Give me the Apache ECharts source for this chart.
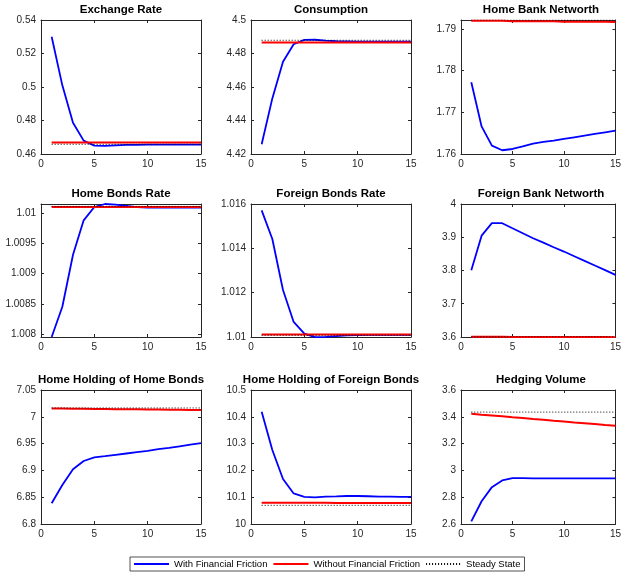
<!DOCTYPE html>
<html>
<head>
<meta charset="utf-8">
<title>Impulse responses</title>
<script src="https://cdn.jsdelivr.net/npm/echarts@6/dist/echarts.min.js"></script>
<style>
html, body { margin: 0; padding: 0; background: #fff; }
#chart { width: 624px; height: 574px; }
</style>
</head>
<body>
<div id="chart"></div>
<script>
var periods = [1, 2, 3, 4, 5, 6, 7, 8, 9, 10, 11, 12, 13, 14, 15];

var titles = ['Exchange Rate', 'Consumption', 'Home Bank Networth',
	'Home Bonds Rate', 'Foreign Bonds Rate', 'Foreign Bank Networth',
	'Home Holding of Home Bonds', 'Home Holding of Foreign Bonds', 'Hedging Volume'];

var seriesNames = ['With Financial Friction', 'Without Financial Friction', 'Steady State'];

// blue lines
var withFriction = [
	[0.530, 0.501, 0.4787, 0.468, 0.465, 0.4648, 0.4651, 0.4654, 0.4655, 0.4656, 0.4656, 0.4656, 0.4656, 0.4656, 0.4656],
	[4.4258, 4.4532, 4.4751, 4.4855, 4.4881, 4.4882, 4.4877, 4.4873, 4.4872, 4.4871, 4.4871, 4.4871, 4.4871, 4.4871, 4.4871],
	[1.7772, 1.7666, 1.762, 1.7609, 1.7612, 1.7618, 1.7625, 1.7629, 1.7632, 1.7636, 1.764, 1.7644, 1.7648, 1.7652, 1.7656],
	[1.00795, 1.00845, 1.00931, 1.00988, 1.0101, 1.01015, 1.01014, 1.01012, 1.0101, 1.01009, 1.01009, 1.01009, 1.01009, 1.01009, 1.01009],
	[1.01571, 1.01442, 1.01212, 1.01068, 1.01015, 1.00999, 1.01001, 1.01004, 1.01007, 1.01009, 1.0101, 1.0101, 1.0101, 1.0101, 1.0101],
	[3.8005, 3.9048, 3.9423, 3.9423, 3.927, 3.912, 3.897, 3.884, 3.870, 3.857, 3.843, 3.829, 3.815, 3.801, 3.787],
	[6.8386, 6.8728, 6.902, 6.9175, 6.9244, 6.9265, 6.929, 6.9315, 6.934, 6.9365, 6.9395, 6.942, 6.945, 6.948, 6.951],
	[10.419, 10.276, 10.168, 10.114, 10.101, 10.0995, 10.102, 10.103, 10.1045, 10.1045, 10.1035, 10.1025, 10.102, 10.1015, 10.101],
	[2.62, 2.77, 2.875, 2.925, 2.9425, 2.9425, 2.941, 2.94, 2.94, 2.94, 2.94, 2.94, 2.941, 2.941, 2.941]
];

// red lines
var withoutFriction = [
	[0.4668, 0.4668, 0.4668, 0.4668, 0.4668, 0.4668, 0.4668, 0.4668, 0.4668, 0.4668, 0.4668, 0.4668, 0.4668, 0.4668, 0.4668],
	[4.4865, 4.4865, 4.4865, 4.4865, 4.4865, 4.4865, 4.4865, 4.4865, 4.4865, 4.4865, 4.4865, 4.4865, 4.4865, 4.4865, 4.4865],
	[1.7919, 1.7919, 1.7919, 1.7919, 1.7918, 1.7918, 1.7918, 1.7918, 1.7918, 1.7917, 1.7917, 1.7917, 1.7917, 1.7917, 1.7916],
	[1.0101, 1.0101, 1.0101, 1.0101, 1.0101, 1.0101, 1.0101, 1.0101, 1.0101, 1.0101, 1.0101, 1.0101, 1.0101, 1.0101, 1.0101],
	[1.01011, 1.01011, 1.01011, 1.01011, 1.01011, 1.01011, 1.01011, 1.01011, 1.01011, 1.01011, 1.01011, 1.01011, 1.01011, 1.01011, 1.01011],
	[3.6006, 3.6005, 3.6004, 3.6004, 3.6003, 3.6002, 3.6002, 3.6001, 3.6, 3.6, 3.5999, 3.5998, 3.5998, 3.5997, 3.5996],
	[7.0155, 7.0153, 7.0151, 7.0149, 7.0147, 7.0145, 7.0143, 7.0141, 7.0139, 7.0137, 7.0135, 7.0133, 7.0131, 7.0129, 7.0127],
	[10.0795, 10.0794, 10.0793, 10.0792, 10.0791, 10.079, 10.0789, 10.0788, 10.0787, 10.0786, 10.0785, 10.0784, 10.0783, 10.0782, 10.0781],
	[3.4225, 3.416, 3.41, 3.4035, 3.397, 3.391, 3.384, 3.378, 3.371, 3.365, 3.358, 3.352, 3.346, 3.339, 3.3325]
];

// dotted steady state level, one per panel
var steadyState = [0.4658, 4.4879, 1.7921, 1.01011, 1.01008, 3.6008, 7.0165, 10.0697, 3.435];

// y axis limits / tick steps (null step -> let echarts pick)
var yMin = [0.46, 4.42, 1.76, 1.00795, 1.01, 3.6, 6.8, 10, 2.6];
var yMax = [0.54, 4.5, 1.7921, 1.01015, 1.016, 4, 7.05, 10.5, 3.6];
var yStep = [0.02, 0.02, 0.01, null, 0.002, 0.1, 0.05, 0.1, 0.2];
var showMinLbl = [true, true, true, false, true, true, true, true, true];
var showMaxLbl = [true, true, false, false, true, true, true, true, true];

var colLeft = [41, 251, 461];
var rowTop = [20, 204, 390];
var rowH = [134, 133, 134];
var font = 'Liberation Sans, Arial, Helvetica, sans-serif';
var axisColor = '#262626';

var chart = echarts.init(document.getElementById('chart'));

var grids = [], xAxes = [], yAxes = [], series = [], graphics = [];
for (var i = 0; i < 9; i++) {
	var r = Math.floor(i / 3), c = i % 3;
	grids.push({ left: colLeft[c], top: rowTop[r], width: 160, height: rowH[r] });

	var line = { show: true, onZero: false, lineStyle: { color: axisColor, width: 1 } };
	var tick = { show: true, inside: true, length: 3, lineStyle: { color: axisColor } };
	var lbl = { color: axisColor, fontSize: 10, margin: 5, fontFamily: font };

	xAxes.push({ type: 'value', gridIndex: i, position: 'bottom', min: 0, max: 15, interval: 5,
		axisLine: line, axisTick: tick, splitLine: { show: false }, axisLabel: lbl });
	xAxes.push({ type: 'value', gridIndex: i, position: 'top', min: 0, max: 15, interval: 5,
		axisLine: line, axisTick: tick, splitLine: { show: false }, axisLabel: { show: false } });

	var yl = { type: 'value', gridIndex: i, position: 'left', min: yMin[i], max: yMax[i],
		axisLine: line, axisTick: tick, splitLine: { show: false },
		axisLabel: { color: axisColor, fontSize: 10, margin: 5, fontFamily: font,
			showMinLabel: showMinLbl[i], showMaxLabel: showMaxLbl[i] } };
	var yr = { type: 'value', gridIndex: i, position: 'right', min: yMin[i], max: yMax[i],
		axisLine: line, axisTick: tick, splitLine: { show: false }, axisLabel: { show: false } };
	if (yStep[i]) { yl.interval = yStep[i]; yr.interval = yStep[i]; }
	else { yl.splitNumber = 4; yr.splitNumber = 4; }
	yAxes.push(yl, yr);

	var blue = [], red = [], ss = [];
	for (var k = 0; k < periods.length; k++) {
		blue.push([periods[k], withFriction[i][k]]);
		red.push([periods[k], withoutFriction[i][k]]);
		ss.push([periods[k], steadyState[i]]);
	}
	series.push({
		name: seriesNames[0], type: 'line', xAxisIndex: 2 * i, yAxisIndex: 2 * i,
		data: blue, symbol: 'none', lineStyle: { color: '#0000ff', width: 1.8 }, itemStyle: { color: '#0000ff' }, z: 2
	});
	series.push({
		name: seriesNames[1], type: 'line', xAxisIndex: 2 * i, yAxisIndex: 2 * i,
		data: red, symbol: 'none', lineStyle: { color: '#ff0000', width: 2 }, itemStyle: { color: '#ff0000' }, z: 3
	});
	series.push({
		name: seriesNames[2], type: 'line', xAxisIndex: 2 * i, yAxisIndex: 2 * i,
		data: ss, symbol: 'none', lineStyle: { color: '#000', width: 1, type: [1, 2] }, itemStyle: { color: '#000' }, z: 4
	});

	graphics.push({
		type: 'text', x: colLeft[c] + 80, y: rowTop[r] - 10,
		style: { text: titles[i], font: 'bold 11.5px ' + font, fill: '#000',
			textAlign: 'center', verticalAlign: 'middle', textVerticalAlign: 'middle' }
	});
}

chart.setOption({
	animation: false,
	backgroundColor: '#fff',
	grid: grids,
	xAxis: xAxes,
	yAxis: yAxes,
	graphic: graphics,
	legend: {
		data: seriesNames,
		left: 130, top: 557,
		itemWidth: 35, itemHeight: 8, itemGap: 5,
		padding: [2, 4, 2, 3],
		borderColor: axisColor, borderWidth: 0.8,
		itemStyle: { opacity: 0 },
		textStyle: { fontSize: 9.5, color: '#000', fontFamily: font }
	},
	series: series
});
</script>
</body>
</html>
